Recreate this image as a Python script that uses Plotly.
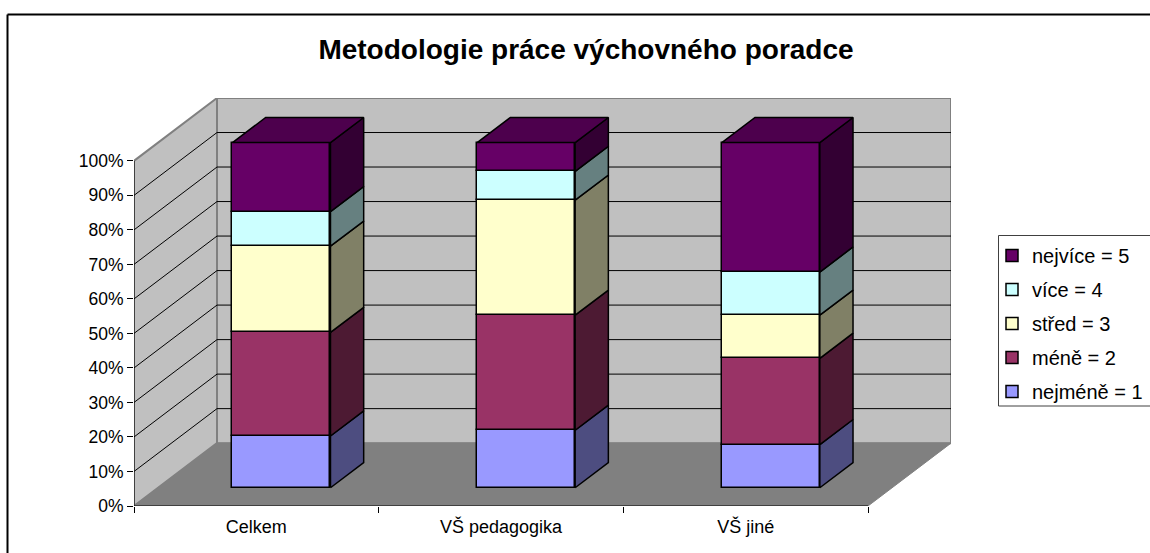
import plotly.graph_objects as go

categories = ["Celkem", "VŠ pedagogika", "VŠ jiné"]
series_names = ["nejméně = 1", "méně = 2", "střed = 3", "více = 4", "nejvíce = 5"]
nejmene = [15, 16.67, 12.5]
mene = [30, 33.33, 25]
stred = [25, 33.33, 12.5]
vice = [10, 8.33, 12.5]
nejvice = [20, 8.34, 37.5]
series_values = [nejmene, mene, stred, vice, nejvice]
front_colors = ["#9999FF", "#993366", "#FFFFCC", "#CCFFFF", "#660066"]
side_colors = ["#4D4D80", "#4D1A33", "#808066", "#668080", "#330033"]
top_color = "#4D004D"
y_ticks = list(range(0, 101, 10))
y_labels = [f"{v}%" for v in y_ticks]

FONT = "Liberation Sans"
DX, DY = 83 / 244.67, 63 / 3.46      # full depth of the 3-D box in axis units
BAR_W = 98 / 244.67
BAR_DEPTH = 0.4

fig = go.Figure()
ox, oy = 0.303 * DX, 0.29 * DY       # bar front face sits about 30% into the depth
bx, by = BAR_DEPTH * DX, BAR_DEPTH * DY

# front faces: real stacked values through the axes
bottoms = [0, 0, 0]
for rank, (name, vals, fc, sc) in enumerate(zip(series_names, series_values, front_colors, side_colors)):
    fig.add_trace(go.Bar(
        x=[i + 0.5 + ox for i in range(3)],
        y=vals,
        base=[b + oy for b in bottoms],
        width=BAR_W,
        name=name,
        legendgroup=name,
        legendrank=10 - rank,
        marker=dict(color=fc, line=dict(color="black", width=1.5)),
        hoverinfo="skip",
    ))
    # right side faces
    for i, v in enumerate(vals):
        xr = i + 0.5 + ox + BAR_W / 2
        y0 = bottoms[i] + oy
        y1 = y0 + v
        fig.add_trace(go.Scatter(
            x=[xr, xr + bx, xr + bx, xr, xr],
            y=[y0, y0 + by, y1 + by, y1, y0],
            mode="lines", fill="toself", fillcolor=sc,
            line=dict(color="black", width=1.5),
            showlegend=False, hoverinfo="skip",
        ))
    bottoms = [b + v for b, v in zip(bottoms, vals)]

# top faces
for i, t in enumerate(bottoms):
    xl = i + 0.5 + ox - BAR_W / 2
    xr = xl + BAR_W
    y1 = t + oy
    fig.add_trace(go.Scatter(
        x=[xl, xr, xr + bx, xl + bx, xl],
        y=[y1, y1, y1 + by, y1 + by, y1],
        mode="lines", fill="toself", fillcolor=top_color,
        line=dict(color="black", width=1.5),
        showlegend=False, hoverinfo="skip",
    ))

shapes = []
GREY = "#808080"
# back wall, side wall, floor
shapes.append(dict(type="path", layer="below", xref="x", yref="y",
                   path=f"M {DX},{DY} L {3+DX},{DY} L {3+DX},{100+DY} L {DX},{100+DY} Z",
                   fillcolor="#C0C0C0", line=dict(color=GREY, width=2)))
shapes.append(dict(type="path", layer="below", xref="x", yref="y",
                   path=f"M 0,0 L {DX},{DY} L {DX},{100+DY} L 0,100 Z",
                   fillcolor="#C0C0C0", line=dict(color=GREY, width=2)))
shapes.append(dict(type="path", layer="below", xref="x", yref="y",
                   path=f"M 0,0 L 3,0 L {3+DX},{DY} L {DX},{DY} Z",
                   fillcolor=GREY, line=dict(color=GREY, width=1)))
# gridlines on both walls
for v in y_ticks[1:-1]:
    shapes.append(dict(type="line", layer="below", xref="x", yref="y",
                       x0=0, y0=v, x1=DX, y1=v + DY, line=dict(color="black", width=1)))
    shapes.append(dict(type="line", layer="below", xref="x", yref="y",
                       x0=DX, y0=v + DY, x1=3 + DX, y1=v + DY, line=dict(color="black", width=1)))
# front axis lines
shapes.append(dict(type="line", layer="above", xref="x", yref="y",
                   x0=0, y0=0, x1=0, y1=100, line=dict(color="black", width=1)))
shapes.append(dict(type="line", layer="above", xref="x", yref="y",
                   x0=0, y0=0, x1=3, y1=0, line=dict(color="black", width=1)))
# chart-area border, running off the right and bottom of the page
px = lambda p: (p - 134) / 817
py = lambda p: (506 - p) / 408
shapes.append(dict(type="line", xref="paper", yref="paper", x0=px(7.5), x1=px(1150),
                   y0=py(14.5), y1=py(14.5), line=dict(color="black", width=2)))
shapes.append(dict(type="line", xref="paper", yref="paper", x0=px(7.5), x1=px(7.5),
                   y0=py(14.5), y1=py(553), line=dict(color="black", width=2)))
# legend frame, also running off the right edge of the page
shapes.append(dict(type="rect", xref="paper", yref="paper", x0=px(998.5), x1=px(1160),
                   y0=py(406), y1=py(235.5), fillcolor="white",
                   line=dict(color="#404040", width=1)))

fig.update_layout(
    width=1150, height=553, autosize=False,
    margin=dict(l=134, r=199, t=98, b=47, autoexpand=False),
    paper_bgcolor="white", plot_bgcolor="white",
    barmode="overlay",
    bargap=0,
    shapes=shapes,
    font=dict(family=FONT, color="black", size=15),
    title=dict(text="<b>Metodologie práce výchovného poradce</b>",
               font=dict(family=FONT, size=28, color="black"),
               x=586 / 1150, xanchor="center", y=1 - 49 / 553, yanchor="middle"),
    xaxis=dict(range=[0, 3 + DX], showgrid=False, zeroline=False, showline=False,
               tickmode="array", tickvals=[0.5, 1.5, 2.5], ticktext=categories,
               ticks="outside", ticklen=4, tickcolor="rgba(0,0,0,0)", tickfont=dict(size=18),
               minor=dict(tickmode="array", tickvals=[0, 1, 2, 3], ticks="outside",
                          ticklen=6, tickcolor="black", tickwidth=1, showgrid=False)),
    yaxis=dict(range=[0, 100 + DY], showgrid=False, zeroline=False, showline=False,
               tickmode="array", tickvals=y_ticks, ticktext=y_labels,
               ticks="outside", ticklen=6, tickcolor="black", tickwidth=1,
               tickfont=dict(size=17.5)),
    legend=dict(x=px(992), xanchor="left", y=py(236), yanchor="top",
                traceorder="grouped", tracegroupgap=5,
                borderwidth=0, bgcolor="rgba(0,0,0,0)",
                font=dict(size=20), entrywidth=114, entrywidthmode="pixels"),
)

fig.write_html("out.html", config=dict(displayModeBar=False),
               post_script="document.body.style.margin='0';")
